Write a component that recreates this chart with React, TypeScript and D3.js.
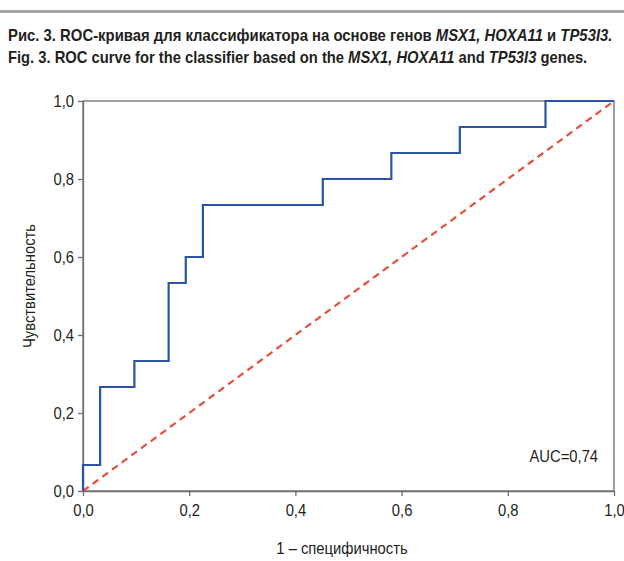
import React, { useEffect, useRef } from 'react';
import * as d3 from 'd3';

// ROC points: false positive counts (of 31) and true positive counts (of 15)
const fpCounts = [0, 0, 1, 3, 5, 6, 7, 14, 18, 22, 27, 31];
const tpCounts = [0, 1, 4, 5, 8, 9, 11, 12, 13, 14, 15, 15];
const nNeg = 31;
const nPos = 15;
const tickValues = [0, 0.2, 0.4, 0.6, 0.8, 1.0];
const titleRu = ['Рис. 3. ROC-кривая для классификатора на основе генов ', 'MSX1, HOXA11', ' и ', 'TP53I3.'];
const titleEn = ['Fig. 3. ROC curve for the classifier based on the ', 'MSX1, HOXA11', ' and ', 'TP53I3', ' genes.'];
const aucLabel = 'AUC=0,74';
const xLabel = '1 – специфичность';
const yLabel = 'Чувствительность';

const W = 624;
const H = 561;
const FONT = '"Liberation Sans", Arial, sans-serif';
const SQUEEZE = 0.87; // fake a condensed face

const App = () => {
  const svgRef = useRef<SVGSVGElement>(null);

  useEffect(() => {
    const svg = d3.select(svgRef.current);
    svg.selectAll('*').remove();

    const margin = { left: 83, right: 10, top: 101, bottom: 70 };
    const x = d3.scaleLinear().domain([0, 1]).range([margin.left, W - margin.right]);
    const y = d3.scaleLinear().domain([0, 1]).range([H - margin.bottom, margin.top]);
    const fmt = (d: number) => d3.format('.1f')(d).replace('.', ',');

    // top rule
    svg.append('rect')
      .attr('x', 0).attr('y', 10).attr('width', W).attr('height', 3)
      .attr('fill', '#a3a3a3');

    // title, stretched to the reference line widths
    const titleLine = (parts: string[], italicIdx: number[], yPos: number, targetW: number) => {
      const t = svg.append('text').attr('x', 0).attr('y', 0)
        .attr('font-family', FONT).attr('font-size', 16).attr('font-weight', 'bold').attr('fill', '#231f20');
      parts.forEach((s, i) => t.append('tspan').attr('font-style', italicIdx.includes(i) ? 'italic' : 'normal').text(s));
      const w = (t.node() as SVGTextElement).getComputedTextLength();
      t.attr('transform', `translate(8,${yPos}) scale(${targetW / w},1)`);
    };
    titleLine(titleRu, [1, 3], 41, 605);
    titleLine(titleEn, [1, 3], 63, 580);

    // frame
    svg.append('rect')
      .attr('x', x(0)).attr('y', y(1))
      .attr('width', x(1) - x(0)).attr('height', y(0) - y(1))
      .attr('fill', 'none').attr('stroke', '#6d6e71').attr('stroke-width', 1.3);

    const xAxis = svg.append('g')
      .attr('transform', `translate(0,${y(0)})`)
      .call(d3.axisBottom(x).tickValues(tickValues).tickFormat(d => fmt(+d)).tickSize(5).tickSizeOuter(0).tickPadding(8));
    const yAxis = svg.append('g')
      .attr('transform', `translate(${x(0)},0)`)
      .call(d3.axisLeft(y).tickValues(tickValues).tickFormat(d => fmt(+d)).tickSize(5).tickSizeOuter(0).tickPadding(4));
    [xAxis, yAxis].forEach(g => {
      g.select('.domain').attr('stroke', '#6d6e71').attr('stroke-width', 1.3);
      g.selectAll('.tick line').attr('stroke', '#6d6e71').attr('stroke-width', 1.3);
      g.selectAll('.tick text').attr('font-family', FONT).attr('font-size', 17).attr('fill', '#231f20');
    });
    xAxis.selectAll('.tick text').attr('transform', `scale(${SQUEEZE},1)`);
    yAxis.selectAll('.tick text')
      .attr('dy', '0.35em')
      .attr('x', -9 / SQUEEZE)
      .attr('transform', `scale(${SQUEEZE},1)`);

    // diagonal reference
    svg.append('line')
      .attr('x1', x(0)).attr('y1', y(0)).attr('x2', x(1)).attr('y2', y(1))
      .attr('stroke', '#e5503b').attr('stroke-width', 2.2).attr('stroke-dasharray', '7,5');

    // ROC step curve
    const pts = fpCounts.map((f, i) => [f / nNeg, tpCounts[i] / nPos] as [number, number]);
    const line = d3.line<[number, number]>()
      .x(d => x(d[0])).y(d => y(d[1]))
      .curve(d3.curveStepAfter);
    svg.append('path')
      .datum(pts)
      .attr('d', line)
      .attr('fill', 'none').attr('stroke', '#2b55a3').attr('stroke-width', 2.2);

    const label = (txt: string, tx: number, ty: number, anchor: string, rot = 0) =>
      svg.append('text')
        .attr('transform', `translate(${tx},${ty}) rotate(${rot}) scale(${SQUEEZE},1)`)
        .attr('text-anchor', anchor)
        .attr('font-family', FONT).attr('font-size', 17).attr('fill', '#231f20')
        .text(txt);

    label(aucLabel, x(0.97), y(0.075), 'end');
    label(xLabel, 342, 554, 'middle');
    label(yLabel, 35, 286, 'middle', -90);
  }, []);

  return (
    <svg ref={svgRef} width={W} height={H} style={{ position: 'absolute', left: 0, top: 0 }} />
  );
};

export default App;
